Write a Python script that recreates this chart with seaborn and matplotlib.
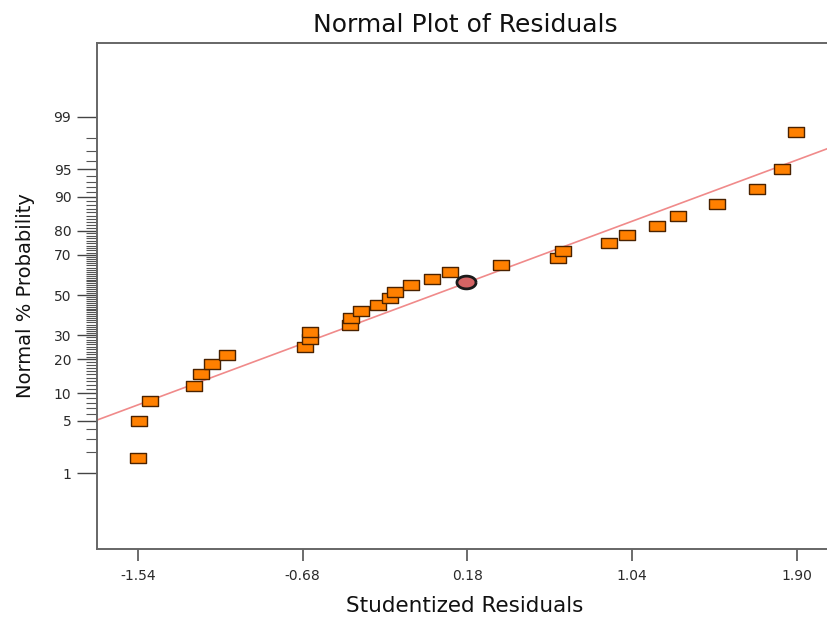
from statistics import NormalDist
import numpy as np
import pandas as pd
import matplotlib
matplotlib.use("Agg")
import matplotlib.pyplot as plt
import seaborn as sns

# ============ Data ============
resid_x = [-1.540, -1.535, -1.477, -1.247, -1.213, -1.153, -1.073, -0.668, -0.644, -0.640,
           -0.434, -0.430, -0.374, -0.288, -0.227, -0.197, -0.117, -0.006, 0.087, 0.355,
           0.650, 0.676, 0.920, 1.015, 1.170, 1.279, 1.480, 1.692, 1.823, 1.893]
prob_pct = [1.67, 5.0, 8.33, 11.67, 15.0, 18.33, 21.67, 25.0, 28.33, 31.67,
            35.0, 38.33, 41.67, 45.0, 48.33, 51.67, 55.0, 58.33, 61.67, 65.0,
            68.33, 71.67, 75.0, 78.33, 81.67, 85.0, 88.33, 91.67, 95.0, 98.33]
highlight_x = [0.173]
highlight_pct = [56.6]

# normal fit line
FIT_MEAN = 0.003
FIT_SD = 1.076

x_ticks = [-1.54, -0.68, 0.18, 1.04, 1.90]
y_major = [1, 5, 10, 20, 30, 50, 70, 80, 90, 95, 99]
y_minor = [p for p in range(2, 99) if p not in y_major]

ND = NormalDist()


def probit(p):
    return np.array([ND.inv_cdf(v / 100.0) for v in np.atleast_1d(p)])


# ============ Plot ============
sns.set_theme(style="white")
plt.rcParams["font.family"] = ["DejaVu Sans"]

fig = plt.figure(figsize=(8.27, 6.19), dpi=100)
ax = fig.add_axes([97 / 827, 70 / 619, 736 / 827, 506 / 619])

XLIM = (-1.754, 2.088)
ax.set_xlim(*XLIM)
ax.set_ylim(-3.316, 3.29)

line_x = np.array(XLIM)
line_z = (line_x - FIT_MEAN) / FIT_SD
sns.lineplot(x=line_x, y=line_z, ax=ax, color="#f08a8a", linewidth=1.2, zorder=2)

df = pd.DataFrame({"x": resid_x, "z": probit(prob_pct)})
rect = [(-1.6, -1), (1.6, -1), (1.6, 1), (-1.6, 1), (-1.6, -1)]
sns.scatterplot(data=df, x="x", y="z", ax=ax, marker=rect, s=135,
                color="#ff8000", edgecolor="#4a2200", linewidth=1.0, zorder=3)

hdf = pd.DataFrame({"x": highlight_x, "z": probit(highlight_pct)})
th = np.linspace(0, 2 * np.pi, 40)
ell = list(zip(1.5 * np.cos(th), 1.0 * np.sin(th)))
sns.scatterplot(data=hdf, x="x", y="z", ax=ax, marker=ell, s=190,
                color="#d46464", edgecolor="#1a1a1a", linewidth=2.0, zorder=4)

# axes styling
ax.set_xticks(x_ticks)
ax.set_xticklabels([f"{v:.2f}" for v in x_ticks])
ax.set_yticks(probit(y_major))
ax.set_yticklabels([str(p) for p in y_major])
ax.set_yticks(probit(y_minor), minor=True)

ax.tick_params(axis="x", which="major", direction="out", length=8.6, width=1.1,
               color="#444444", labelsize=10, labelcolor="#2a2a2a", pad=6,
               bottom=True)
ax.tick_params(axis="y", which="major", direction="out", length=14.5, width=1.0,
               color="#444444", labelsize=10, labelcolor="#2a2a2a", pad=4,
               left=True)
ax.tick_params(axis="y", which="minor", direction="out", length=8, width=0.8,
               color="#555555", left=True)

for s in ["left", "bottom", "top"]:
    ax.spines[s].set_visible(True)
    ax.spines[s].set_color("#666666")
    ax.spines[s].set_linewidth(1.4)
ax.spines["right"].set_visible(False)

ax.set_title("Normal Plot of Residuals", fontsize=18, color="#111111", pad=8)
ax.set_xlabel("Studentized Residuals", fontsize=15.5, color="#111111", labelpad=9)
ax.set_ylabel("Normal % Probability", fontsize=14, color="#111111", labelpad=13)

fig.savefig("out.png", dpi=100)
